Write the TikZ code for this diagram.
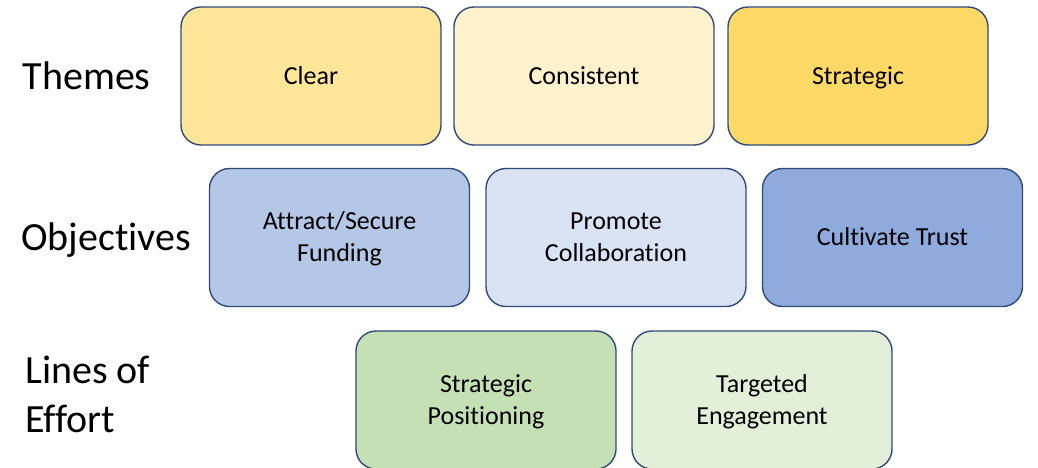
\documentclass[tikz,border=0pt]{standalone}
\usepackage{fontspec}
\setmainfont{Carlito}[Ligatures=NoCommon]
\definecolor{edge}{HTML}{2F4B7A}
\definecolor{cClear}{HTML}{FFE699}
\definecolor{cCons}{HTML}{FFF2CC}
\definecolor{cStrat}{HTML}{FFD966}
\definecolor{cAttr}{HTML}{B4C7E7}
\definecolor{cProm}{HTML}{DAE3F3}
\definecolor{cCult}{HTML}{8FAADC}
\definecolor{cPos}{HTML}{C5E0B4}
\definecolor{cTarg}{HTML}{E2F0D9}
% a line with cap height and no depth (card text / row label text)
\newcommand\cl[1]{\vrule height16.4pt width0pt depth0pt\smash{#1}}
\newcommand\rl[1]{\vrule height25.3pt width0pt depth0pt\smash{#1}}
% centred lines 32pt apart; left-aligned lines 49pt apart
\newcommand\ctxt[1]{\vbox{\baselineskip=32pt\lineskiplimit=-1000pt
  \halign{\hfil##\hfil\cr#1\crcr}}}
\newcommand\ltxt[1]{\vbox{\baselineskip=49pt\lineskiplimit=-1000pt
  \halign{##\hfil\cr#1\crcr}}}
\begin{document}
\begin{tikzpicture}[x=1pt,y=-1pt,
  card/.style={draw=edge, line width=1.4pt, rounded corners=20pt,
    minimum width=260pt, minimum height=138pt, inner sep=0pt,
    font=\fontsize{26}{32}\selectfont},
  rowlabel/.style={anchor=south west, inner sep=0pt,
    font=\fontsize{40}{49}\selectfont}]
\useasboundingbox (0,0) rectangle (1038,467);
% Themes
\node[card, fill=cClear] (clear) at (311,76) {\ctxt{\cl{Clear}}};
\node[card, fill=cCons]  (cons)  at (584,76) {\ctxt{\cl{Consistent}}};
\node[card, fill=cStrat] (strat) at (858,76) {\ctxt{\cl{Strategic}}};
% Objectives
\node[card, fill=cAttr] (attr) at (339.5,237.5) {\ctxt{\cl{Attract/Secure}\cr\cl{Funding}}};
\node[card, fill=cProm] (prom) at (616,237.5) {\ctxt{\cl{Promote}\cr\cl{Collaboration}}};
\node[card, fill=cCult] (cult) at (892.5,237.5) {\ctxt{\cl{Cultivate Trust}}};
% Lines of effort
\node[card, fill=cPos]  (pos)  at (486,400) {\ctxt{\cl{Strategic}\cr\cl{Positioning}}};
\node[card, fill=cTarg] (targ) at (762,400) {\ctxt{\cl{Targeted}\cr\cl{Engagement}}};
% row labels
\node[rowlabel] (lthemes) at (22.5,90) {\ltxt{\rl{Themes}}};
\node[rowlabel] (lobj) at (21,251) {\ltxt{\rl{Objectives}}};
\node[rowlabel] (lloe) at (25,432.7) {\ltxt{\rl{Lines of}\cr\rl{Effort}}};
\end{tikzpicture}
\end{document}
